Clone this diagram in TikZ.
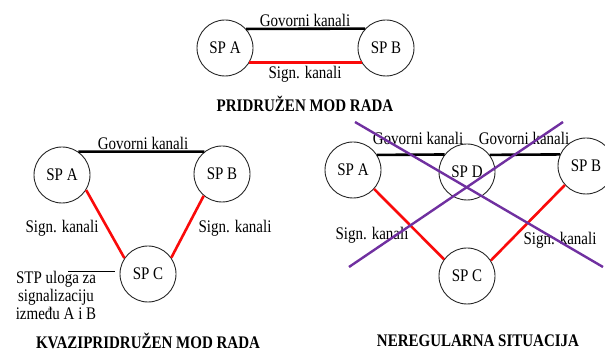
\documentclass[tikz,border=0pt]{standalone}
\usepackage{fontspec}
\setmainfont{Liberation Serif}
\definecolor{sigred}{RGB}{250,10,10}
\definecolor{xpurple}{RGB}{112,48,160}
\newcommand{\stt}[1]{\scalebox{1}[1.18]{#1}}
\begin{document}
\begin{tikzpicture}[x=1pt,y=-1pt,
  sp/.style={circle,draw=black!85,line width=0.9pt,minimum size=56pt,inner sep=0pt,
    font=\fontsize{15}{18}\selectfont},
  lbl/.style={inner sep=0pt,font=\fontsize{15}{18}\selectfont},
  ttl/.style={inner sep=0pt,font=\fontsize{15}{18}\selectfont\bfseries},
  voice/.style={black,line width=2.6pt},
  sig/.style={sigred,line width=2.6pt},
  cross/.style={xpurple,line width=2.4pt}]
\useasboundingbox (0,0) rectangle (605,352);
% ---- top: pridruzen
\node[sp] (tA) at (225,48) {\stt{SP A}};
\node[sp] (tB) at (386,48) {\stt{SP B}};
\draw[voice] (tA.42.7) -- (tB.137.3);
\draw[sig] (tA.-31) -- (tB.-149);
\node[lbl] (tG) at (305,20) {\stt{Govorni kanali}};
\node[lbl] (tS) at (305,74) {\stt{Sign. kanali}};
\node[ttl] (tT) at (305,104) {\stt{PRIDRUŽEN MOD RADA}};
% ---- bottom left: kvazipridruzen
\node[sp] (lA) at (62,175) {\stt{SP A}};
\node[sp] (lB) at (222,174) {\stt{SP B}};
\node[sp] (lC) at (148,274) {\stt{SP C}};
\draw[voice] (lA.55.2) -- (lB.128.2);
\draw[sig] (lA.-32) -- (lC.146);
\draw[sig] (lB.-130) -- (lC.35);
\node[lbl] (lG) at (143,143) {\stt{Govorni kanali}};
\node[lbl] (lS1) at (62,228) {\stt{Sign. kanali}};
\node[lbl] (lS2) at (235,228) {\stt{Sign. kanali}};
\coordinate (stpL) at (68,271);
\coordinate (stpR) at (115,271);
\draw[black,line width=0.9pt] (stpL) -- (stpR);
\node[lbl,font=\fontsize{15}{15.5}\selectfont] (lStp) at (56,298) {\stt{\begin{tabular}{@{}c@{}}STP uloga za\\signalizaciju\\između A i B\end{tabular}}};
\node[ttl] (lT) at (148,341) {\stt{KVAZIPRIDRUŽEN MOD RADA}};
% ---- bottom right: neregularna
\node[sp] (rA) at (353,170) {\stt{SP A}};
\node[sp] (rD) at (467,172) {\stt{SP D}};
\node[sp] (rB) at (586,166) {\stt{SP B}};
\node[sp] (rC) at (467,276) {\stt{SP C}};
\draw[voice] (rA.32.4) -- (rD.142.6);
\draw[voice] (rD.37.4) -- (rB.156.9);
\draw[sig] (rA.-42) -- (rC.144);
\draw[sig] (rC.33) -- (rB.222);
\node[lbl] (rG1) at (418,138) {\stt{Govorni kanali}};
\node[lbl] (rG2) at (524,138) {\stt{Govorni kanali}};
\node[lbl] (rS1) at (372,235) {\stt{Sign. kanali}};
\node[lbl] (rS2) at (560,240) {\stt{Sign. kanali}};
\node[ttl] (rT) at (478,341) {\stt{NEREGULARNA SITUACIJA}};
\coordinate (x1a) at (355,122);
\coordinate (x1b) at (603,267);
\coordinate (x2a) at (563,122);
\coordinate (x2b) at (349,267);
\draw[cross] (x1a) -- (x1b);
\draw[cross] (x2a) -- (x2b);
\end{tikzpicture}
\end{document}
